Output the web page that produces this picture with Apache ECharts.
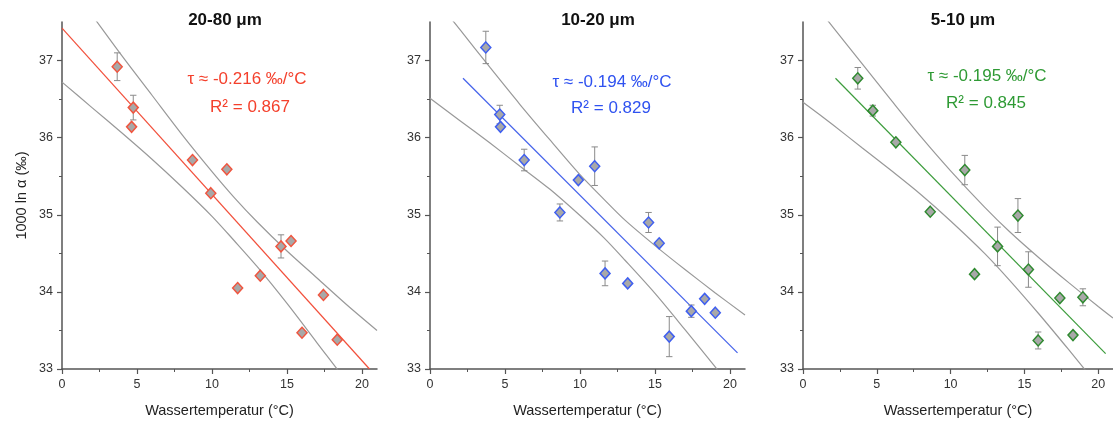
<!DOCTYPE html>
<html>
<head>
<meta charset="utf-8">
<script src="https://cdn.jsdelivr.net/npm/echarts@6/dist/echarts.min.js"></script>
<style>html,body{margin:0;padding:0;background:#fff;}#c{width:1113px;height:423px;}</style>
</head>
<body>
<div id="c"></div>
<script>
// ---- data ----
const titles = ['20-80 μm', '10-20 μm', '5-10 μm'];
const tauTexts = ['τ ≈ -0.216 ‰/°C', 'τ ≈ -0.194 ‰/°C', 'τ ≈ -0.195 ‰/°C'];
const r2Texts = ['R² = 0.867', 'R² = 0.829', 'R² = 0.845'];
const xTicks = [0, 5, 10, 15, 20];
const xMinorTicks = [2.5, 7.5, 12.5, 17.5];
const yTicks = [33, 34, 35, 36, 37];
const yMinorTicks = [33.5, 34.5, 35.5, 36.5];

const p1X = [3.68, 4.75, 4.64, 8.70, 10.99, 9.92, 14.60, 15.27, 13.22, 11.71, 17.43, 16.00, 18.35];
const p1Y = [36.92, 36.39, 36.14, 35.71, 35.59, 35.28, 34.59, 34.66, 34.21, 34.05, 33.96, 33.47, 33.38];
const p1Err = [0.18, 0.16, 0, 0, 0, 0, 0.15, 0, 0, 0, 0, 0, 0];
const p1FitX = [0, 20.5];
const p1FitY = [37.42, 33.0];
const p1BandX = [0, 2, 4, 6, 8, 10, 11.5, 13, 15, 17, 19, 21];
const p1Upper = [38.12, 37.59, 37.06, 36.55, 36.04, 35.56, 35.22, 34.91, 34.53, 34.18, 33.83, 33.50];
const p1Lower = [36.72, 36.39, 36.06, 35.72, 35.36, 34.98, 34.66, 34.33, 33.85, 33.34, 32.83, 32.30];

const p2X = [3.72, 4.65, 4.70, 6.28, 8.66, 9.89, 10.98, 14.57, 15.28, 11.67, 13.18, 17.42, 18.31, 19.02, 15.95];
const p2Y = [37.17, 36.30, 36.14, 35.71, 35.03, 35.45, 35.63, 34.90, 34.63, 34.24, 34.11, 33.75, 33.91, 33.73, 33.42];
const p2Err = [0.21, 0.12, 0, 0.14, 0.11, 0, 0.25, 0.13, 0, 0.16, 0, 0.08, 0, 0, 0.26];
const p2FitX = [2.2, 20.5];
const p2FitY = [36.77, 33.21];
const p2BandX = [0, 2, 4, 6, 8, 10, 11.6, 13, 15, 17, 19, 21];
const p2Upper = [37.89, 37.40, 36.91, 36.43, 35.97, 35.52, 35.20, 34.93, 34.60, 34.29, 33.99, 33.70];
const p2Lower = [36.51, 36.22, 35.93, 35.63, 35.33, 34.99, 34.70, 34.41, 33.98, 33.51, 33.03, 32.54];

const p3X = [3.71, 4.73, 6.29, 8.62, 10.96, 14.56, 13.18, 11.62, 15.27, 17.40, 18.96, 15.93, 18.29];
const p3Y = [36.77, 36.35, 35.94, 35.04, 35.58, 34.99, 34.59, 34.23, 34.29, 33.92, 33.93, 33.37, 33.44];
const p3Err = [0.14, 0.07, 0, 0, 0.19, 0.22, 0.25, 0, 0.23, 0, 0.11, 0.11, 0];
const p3FitX = [2.2, 20.5];
const p3FitY = [36.77, 33.20];
const p3BandX = [0, 2, 4, 6, 8, 10, 12.3, 14, 16, 18, 20, 21];
const p3Upper = [37.93, 37.44, 36.96, 36.48, 36.01, 35.57, 35.10, 34.78, 34.44, 34.12, 33.81, 33.66];
const p3Lower = [36.46, 36.17, 35.87, 35.57, 35.26, 34.92, 34.50, 34.15, 33.71, 33.25, 32.78, 32.54];

// ---- styling ----
const FONT = '"Liberation Sans", Arial, Helvetica, sans-serif';
const panels = [
  {x: p1X, y: p1Y, e: p1Err, fx: p1FitX, fy: p1FitY, bx: p1BandX, bu: p1Upper, bl: p1Lower,
   left: 62, line: '#f2503c', text: '#f4402c', border: '#f0553f', tx: 247, ty: 79, rx: 250, ry: 107, titleX: 225},
  {x: p2X, y: p2Y, e: p2Err, fx: p2FitX, fy: p2FitY, bx: p2BandX, bu: p2Upper, bl: p2Lower,
   left: 430, line: '#4563ea', text: '#2f52f0', border: '#3f5ff0', tx: 612, ty: 82, rx: 611, ry: 108, titleX: 598},
  {x: p3X, y: p3Y, e: p3Err, fx: p3FitX, fy: p3FitY, bx: p3BandX, bu: p3Upper, bl: p3Lower,
   left: 803, line: '#3c9c3c', text: '#2e9a34', border: '#2f8a30', tx: 987, ty: 76, rx: 986, ry: 103, titleX: 963}
];

const zip = (a, b) => a.map((v, i) => [v, b[i]]);

function errRender(params, api) {
  const x = api.value(0), y = api.value(1), e = api.value(2);
  const t = api.coord([x, y + e]), b = api.coord([x, y - e]);
  const hw = 3.2;
  const st = {stroke: '#8a8a8a', lineWidth: 1};
  return {type: 'group', children: [
    {type: 'line', shape: {x1: t[0], y1: t[1], x2: b[0], y2: b[1]}, style: st},
    {type: 'line', shape: {x1: t[0] - hw, y1: t[1], x2: t[0] + hw, y2: t[1]}, style: st},
    {type: 'line', shape: {x1: b[0] - hw, y1: b[1], x2: b[0] + hw, y2: b[1]}, style: st}
  ]};
}

const grids = [], xAxes = [], yAxes = [], series = [], graphics = [];
const axisColor = '#555';
panels.forEach((p, i) => {
  grids.push({left: p.left, top: 22, width: 315, height: 349});
  const xMain = xAxes.length;
  xAxes.push({
    type: 'value', gridIndex: i, min: 0, max: 21, position: 'bottom',
    axisLine: {show: true, onZero: false, lineStyle: {color: axisColor, width: 1.5}},
    axisTick: {show: true, customValues: xTicks, length: 5, lineStyle: {color: axisColor, width: 1.2}},
    axisLabel: {customValues: xTicks, fontSize: 12.5, color: '#333', margin: 9, fontFamily: FONT},
    splitLine: {show: false},
    name: 'Wassertemperatur (°C)', nameLocation: 'middle', nameGap: 34,
    nameTextStyle: {fontSize: 14.5, color: '#222', fontFamily: FONT}
  });
  xAxes.push({
    type: 'value', gridIndex: i, min: 0, max: 21, position: 'bottom',
    axisLine: {show: false}, axisLabel: {show: false}, splitLine: {show: false},
    axisTick: {show: true, customValues: xMinorTicks, length: 3, lineStyle: {color: axisColor, width: 1}}
  });
  const yMain = yAxes.length;
  const yMainAxis = {
    type: 'value', gridIndex: i, min: 33, max: 37.5, position: 'left',
    axisLine: {show: true, onZero: false, lineStyle: {color: axisColor, width: 1.5}},
    axisTick: {show: true, customValues: yTicks, length: 5, lineStyle: {color: axisColor, width: 1.2}},
    axisLabel: {customValues: yTicks, fontSize: 12.5, color: '#333', margin: 9, fontFamily: FONT},
    splitLine: {show: false}
  };
  if (i === 0) {
    yMainAxis.name = '1000 ln α (‰)';
    yMainAxis.nameLocation = 'middle';
    yMainAxis.nameGap = 33;
    yMainAxis.nameTextStyle = {fontSize: 14.5, color: '#222', fontFamily: FONT};
  }
  yAxes.push(yMainAxis);
  yAxes.push({
    type: 'value', gridIndex: i, min: 33, max: 37.5, position: 'left',
    axisLine: {show: false}, axisLabel: {show: false}, splitLine: {show: false},
    axisTick: {show: true, customValues: yMinorTicks, length: 3, lineStyle: {color: axisColor, width: 1}}
  });

  const bandStyle = {color: '#999999', width: 1.2};
  series.push({type: 'line', xAxisIndex: xMain, yAxisIndex: yMain, data: zip(p.bx, p.bu),
    showSymbol: false, smooth: 0.3, lineStyle: bandStyle, silent: true, clip: true, z: 1});
  series.push({type: 'line', xAxisIndex: xMain, yAxisIndex: yMain, data: zip(p.bx, p.bl),
    showSymbol: false, smooth: 0.3, lineStyle: bandStyle, silent: true, clip: true, z: 1});
  series.push({type: 'line', xAxisIndex: xMain, yAxisIndex: yMain, data: zip(p.fx, p.fy),
    showSymbol: false, lineStyle: {color: p.line, width: 1.2}, silent: true, clip: true, z: 2});
  const errData = p.x.map((v, k) => [v, p.y[k], p.e[k]]).filter(d => d[2] > 0);
  series.push({type: 'custom', xAxisIndex: xMain, yAxisIndex: yMain, data: errData,
    renderItem: errRender, silent: true, z: 3});
  series.push({type: 'scatter', xAxisIndex: xMain, yAxisIndex: yMain, data: zip(p.x, p.y),
    symbol: 'diamond', symbolSize: [10, 11],
    itemStyle: {color: '#a8a8a8', borderColor: p.border, borderWidth: 1.5, opacity: 1}, z: 4});

  graphics.push({type: 'text', x: p.titleX, y: 20, style: {text: titles[i], font: 'bold 17px ' + FONT,
    fill: '#111', textAlign: 'center', textVerticalAlign: 'middle'}});
  graphics.push({type: 'text', x: p.tx, y: p.ty, style: {text: tauTexts[i], font: '17px ' + FONT,
    fill: p.text, textAlign: 'center', textVerticalAlign: 'middle'}});
  graphics.push({type: 'text', x: p.rx, y: p.ry, style: {text: r2Texts[i], font: '17px ' + FONT,
    fill: p.text, textAlign: 'center', textVerticalAlign: 'middle'}});
});

const chart = echarts.init(document.getElementById('c'), null, {renderer: 'canvas'});
chart.setOption({
  backgroundColor: '#ffffff',
  animation: false,
  grid: grids,
  xAxis: xAxes,
  yAxis: yAxes,
  series: series,
  graphic: graphics
});
</script>
</body>
</html>
